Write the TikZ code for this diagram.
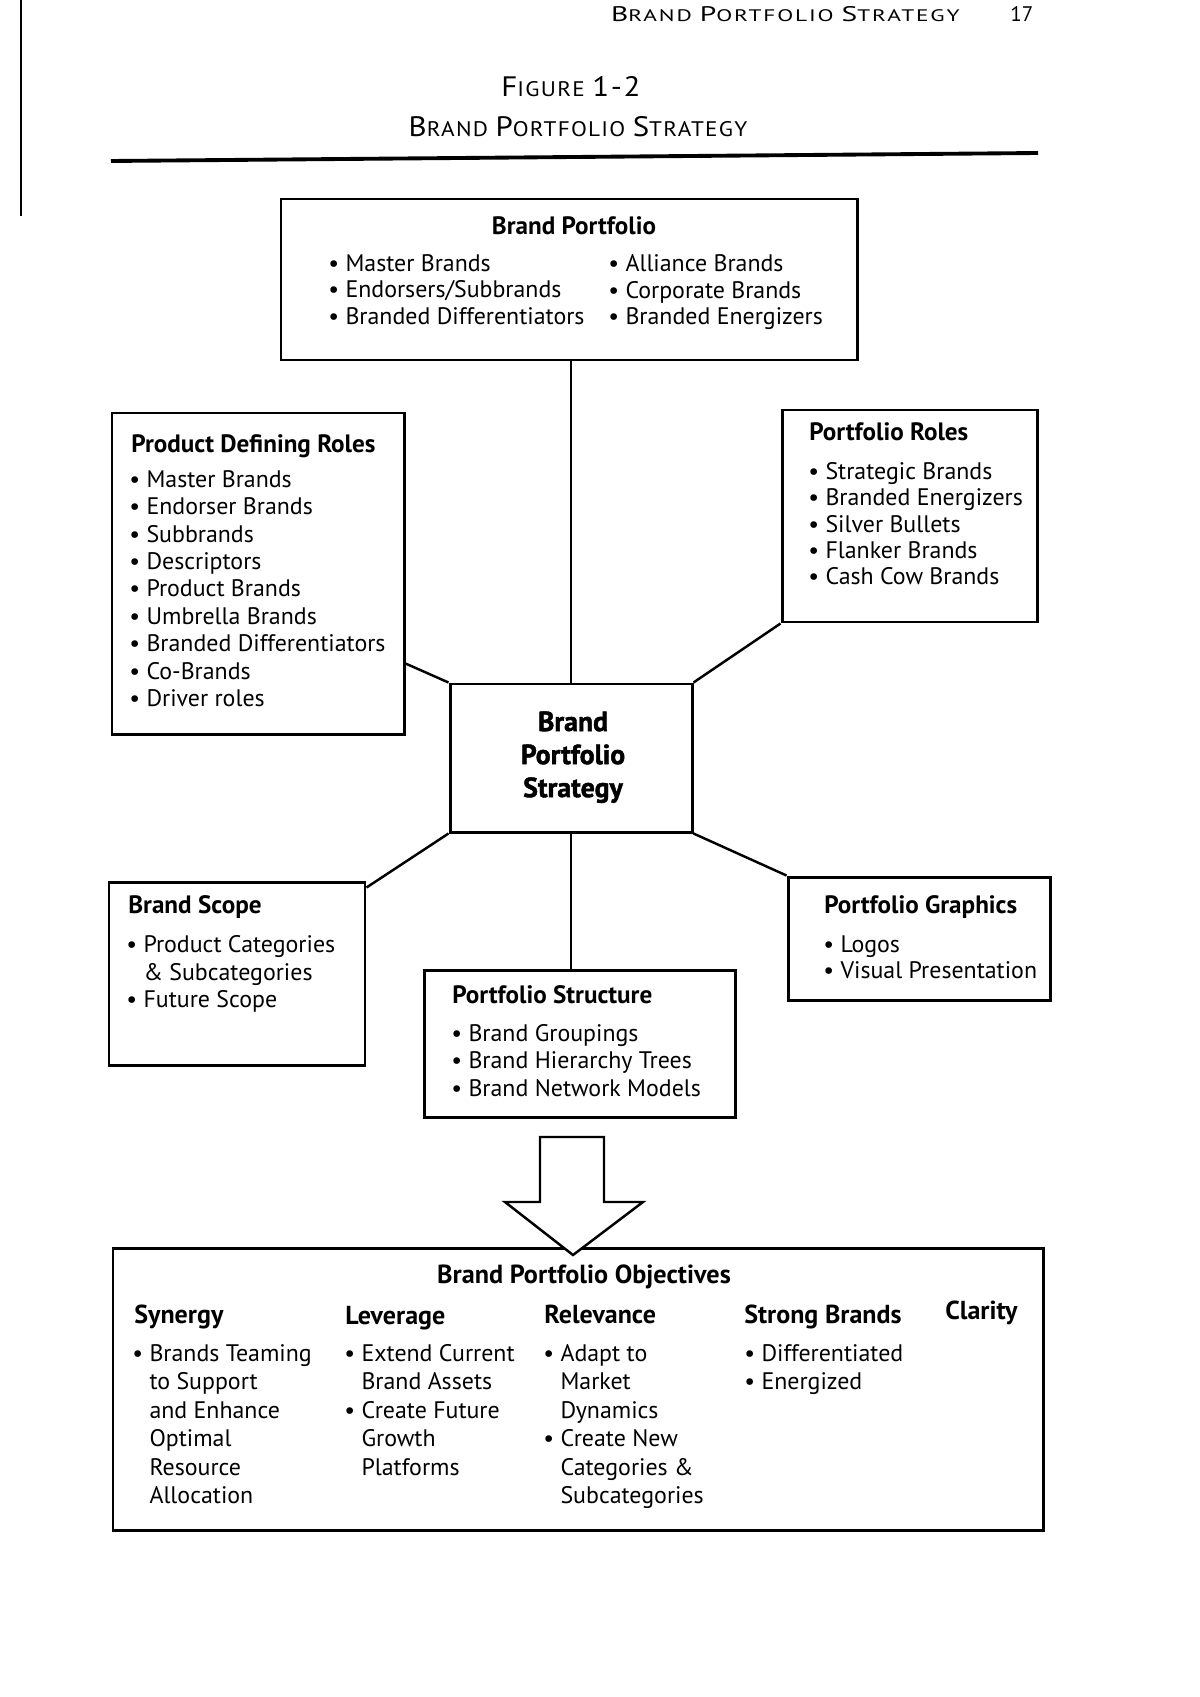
\documentclass[tikz,border=0pt]{standalone}
\usepackage{fontspec}
\setmainfont{PT Sans}
\newfontfamily\heavyfont{PT Sans}[BoldFeatures={FakeBold=1.6}]
\newfontfamily\headfont{PT Sans}[FakeStretch=1.4, LetterSpace=11]
\newfontfamily\titlefont{PT Sans}[FakeStretch=1.1, LetterSpace=6]
\usepackage{tikz}
\usetikzlibrary{positioning, fit, calc}

\newcommand{\blt}{\textbullet\ }
\newcommand{\blind}{\phantom{\textbullet\ }}
\newcommand{\capA}{\fontsize{12}{12}\selectfont}
\newcommand{\capB}{\fontsize{9.5}{12}\selectfont}
\newcommand{\figA}{\fontsize{16}{16}\selectfont}
\newcommand{\figB}{\fontsize{12}{16}\selectfont}

\begin{document}
\begin{tikzpicture}[
    x=0.2mm, y=-0.2mm,
    box/.style={draw, line width=1.7pt, inner sep=0pt},
    ttl/.style={font=\bfseries\fontsize{14.3}{16}\selectfont, inner sep=0pt, anchor=base west},
    lst/.style={font=\fontsize{13.6}{#1}\selectfont, align=left, inner sep=0pt, anchor=north west},
    lst/.default=15.6pt,
    link/.style={line width=1.4pt},
]
\useasboundingbox (0,0) rectangle (1200,1697);

% Page head
\draw[line width=1pt] (21,0) -- (21,216);
\node[inner sep=0pt, anchor=base east, font=\headfont] (head) at (960,22)
    {\capA B\capB RAND \capA P\capB ORTFOLIO \capA S\capB TRATEGY};
\node[inner sep=0pt, anchor=base west, font=\capA] (pageno) at (1010,22) {17};
\node[inner sep=0pt, anchor=base, font=\titlefont] (fig) at (571,97)
    {\figA F\figB IGURE \figA 1-2};
\node[inner sep=0pt, anchor=base, font=\titlefont] (figname) at (578,137)
    {\figA B\figB RAND \figA P\figB ORTFOLIO \figA S\figB TRATEGY};
\draw[line width=2.2pt] (111,161) -- (1038,153);

% Boxes
\node[box, fit={(281,199) (857,360)}] (bp) {};
\node[box, fit={(112,413) (404,734)}] (pdr) {};
\node[box, fit={(782,410) (1037,622)}] (pr) {};
\node[box, fit={(450,684) (692,832)}] (cs) {};
\node[box, fit={(109,882) (365,1065)}] (bs) {};
\node[box, fit={(424,970) (735,1117)}] (ps) {};
\node[box, fit={(788,877) (1050,1000)}] (pg) {};
\node[box, fit={(113,1248) (1043,1530)}] (obj) {};

% Brand Portfolio
\node[ttl, anchor=base] (bptitle) at (574,235) {Brand Portfolio};
\node[lst=15.2pt] (bpleft) at (328,254)
    {\blt Master Brands\\ \blt Endorsers/Subbrands\\ \blt Branded Differentiators};
\node[lst=15.2pt] (bpright) at (608,254)
    {\blt Alliance Brands\\ \blt Corporate Brands\\ \blt Branded Energizers};

% Product Defining Roles
\node[ttl] (pdrtitle) at (131,452) {Product Defining Roles};
\node[lst] (pdritems) at (129,470)
    {\blt Master Brands\\ \blt Endorser Brands\\ \blt Subbrands\\ \blt Descriptors\\
     \blt Product Brands\\ \blt Umbrella Brands\\ \blt Branded Differentiators\\
     \blt Co-Brands\\ \blt Driver roles};

% Portfolio Roles
\node[ttl] (prtitle) at (809,440) {Portfolio Roles};
\node[lst=15pt] (pritems) at (808,462)
    {\blt Strategic Brands\\ \blt Branded Energizers\\ \blt Silver Bullets\\
     \blt Flanker Brands\\ \blt Cash Cow Brands};

% Centre
\node[inner sep=0pt, anchor=north, align=center,
      font=\heavyfont\bfseries\fontsize{15.8}{18.8}\selectfont] (cstext) at (573,711)
    {Brand\\ Portfolio\\ Strategy};

% Brand Scope
\node[ttl] (bstitle) at (128,913) {Brand Scope};
\node[lst=15.8pt] (bsitems) at (126,935)
    {\blt Product Categories\\ \blind\& Subcategories\\ \blt Future Scope};

% Portfolio Structure
\node[ttl] (pstitle) at (452,1003) {Portfolio Structure};
\node[lst] (psitems) at (451,1024)
    {\blt Brand Groupings\\ \blt Brand Hierarchy Trees\\ \blt Brand Network Models};

% Portfolio Graphics
\node[ttl] (pgtitle) at (824,913) {Portfolio Graphics};
\node[lst=14.8pt] (pgitems) at (823,935)
    {\blt Logos\\ \blt Visual Presentation};

% Objectives
\node[ttl, anchor=base, font=\bfseries\fontsize{14.9}{16}\selectfont] (objtitle) at (584,1283)
    {Brand Portfolio Objectives};
\begin{scope}[ttl/.append style={font=\bfseries\fontsize{14.8}{16}\selectfont},
              lst/.append style={font=\fontsize{13.6}{16.2}\selectfont}]
\node[ttl] (synergy) at (134,1323) {Synergy};
\node[ttl] (leverage) at (345,1324) {Leverage};
\node[ttl] (relevance) at (544,1323) {Relevance};
\node[ttl] (strong) at (744,1323) {Strong Brands};
\node[ttl] (clarity) at (945,1319) {Clarity};
\node[lst] (synitems) at (132,1344)
    {\blt Brands Teaming\\ \blind to Support\\ \blind and Enhance\\
     \blind Optimal\\ \blind Resource\\ \blind Allocation};
\node[lst] (levitems) at (344,1344)
    {\blt Extend Current\\ \blind Brand Assets\\ \blt Create Future\\
     \blind Growth\\ \blind Platforms};
\node[lst] (relitems) at (543,1344)
    {\blt Adapt to\\ \blind Market\\ \blind Dynamics\\ \blt Create New\\
     \blind Categories \&\\ \blind Subcategories};
\node[lst] (stritems) at (744,1344)
    {\blt Differentiated\\ \blt Energized};
\end{scope}

% Connectors
\draw[link] (cs.north |- bp.south) -- (cs.north);
\draw[link] (cs.north west) -- ($(pdr.south east)+(0,-72)$);
\draw[link] (cs.north east) -- (pr.south west);
\draw[link] (cs.south west) -- ($(bs.north east)+(0,7)$);
\draw[link] (cs.south east) -- (pg.north west);
\draw[link] (cs.south) -- (cs.south |- ps.north);

% Block arrow
\coordinate (tip) at (573,1255);
\draw[link, fill=white, line join=miter] (tip) -- ++(-68,-53) -- ++(35,0) -- ++(0,-65)
    -- ++(64,0) -- ++(0,65) -- ++(39,0) -- cycle;

\end{tikzpicture}
\end{document}
